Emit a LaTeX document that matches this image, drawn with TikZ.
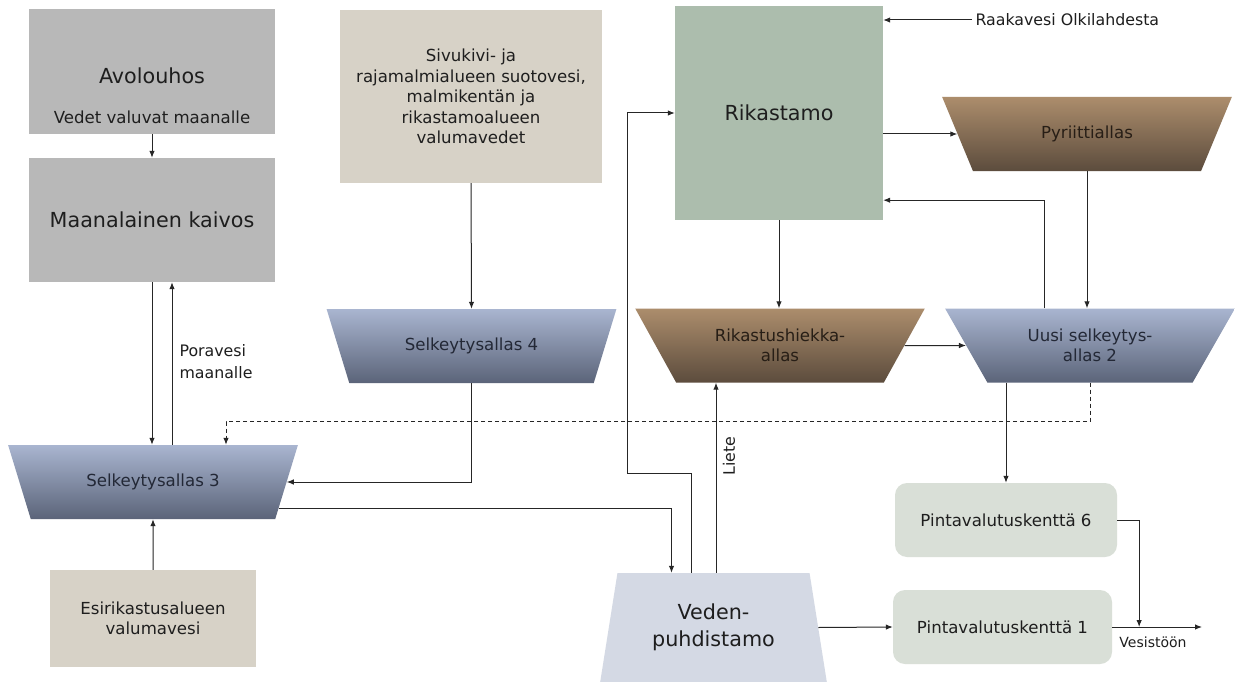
\documentclass[tikz,border=0pt]{standalone}
\usepackage{fontspec}
\setmainfont{DejaVu Sans}
\usetikzlibrary{shapes.geometric,arrows.meta,calc}
\definecolor{greyc}{HTML}{B8B8B8}
\definecolor{beige}{HTML}{D7D2C7}
\definecolor{rikc}{HTML}{ACBDAD}
\definecolor{pintc}{HTML}{D9DFD7}
\definecolor{vpc}{HTML}{D4D9E4}
\definecolor{bluetop}{HTML}{A9B5D0}
\definecolor{bluebot}{HTML}{5B6479}
\definecolor{browntop}{HTML}{AC8D6C}
\definecolor{brownbot}{HTML}{5C4C3D}
\definecolor{txt}{HTML}{1E1E1E}
\definecolor{bluetxt}{HTML}{232836}
\definecolor{browntxt}{HTML}{271E16}
\definecolor{linec}{HTML}{262626}
\newcommand{\fbig}{\fontsize{20.7}{27}\selectfont}
\newcommand{\fmed}{\fontsize{16.6}{20.5}\selectfont}
\newcommand{\fsm}{\fontsize{15.8}{22}\selectfont}
\newcommand{\ftiny}{\fontsize{14}{16}\selectfont}
\begin{document}
\begin{tikzpicture}[x=1pt,y=-1pt,
  box/.style={rectangle, inner sep=0pt, font=\fmed, text=txt, align=center},
  pool/.style={trapezium, shape border rotate=180, trapezium angle=52.4,
    trapezium stretches=true, minimum width=290pt, minimum height=74pt,
    inner sep=0pt, align=center, font=\fmed},
  bluepool/.style={pool, top color=bluetop, bottom color=bluebot, text=bluetxt},
  brownpool/.style={pool, top color=browntop, bottom color=brownbot, text=browntxt},
  pint/.style={box, fill=pintc, rounded corners=12pt, minimum height=74pt},
  lbl/.style={text=txt},
  arr/.style={draw=linec, line width=1pt, -{Latex[length=7pt,width=5.5pt]}},
  dash line/.style={dash pattern=on 4pt off 3pt}
]
\useasboundingbox (0,0) rectangle (1236,682);
\fill[white] (0,0) rectangle (1236,682);

% boxes
\node[box, fill=greyc, minimum width=246pt, minimum height=125pt] (av) at (152,71.5) {};
\node[lbl, font=\fbig] (avt) at (152,76) {Avolouhos};
\node[lbl, font=\fmed] (avs) at (152,117) {Vedet valuvat maanalle};
\node[box, fill=greyc, minimum width=246pt, minimum height=124pt, font=\fbig] (mk) at (152,220) {Maanalainen kaivos};
\node[box, fill=beige, minimum width=262pt, minimum height=173pt] (sv) at (471,96.5)
  {Sivukivi- ja\\rajamalmialueen suotovesi,\\malmikentän ja\\rikastamoalueen\\valumavedet};
\node[box, fill=rikc, minimum width=208pt, minimum height=214pt, font=\fbig] (rk) at (779,113) {Rikastamo};
\node[lbl, anchor=west, font=\fsm] (raw) at (972,20) {Raakavesi Olkilahdesta};

% pools
\node[brownpool] (py) at (1087,134) {Pyriittiallas};
\node[brownpool] (rh) at (780,345.5) {Rikastushiekka-\\allas};
\node[bluepool] (uu) at (1090,345.5) {Uusi selkeytys-\\allas 2};
\node[bluepool] (s4) at (471.5,346) {Selkeytysallas 4};
\node[bluepool] (s3) at (153,482) {Selkeytysallas 3};

\node[box, fill=beige, minimum width=206pt, minimum height=97pt] (es) at (153,618.5) {Esirikastusalueen\\valumavesi};
\node[trapezium, trapezium angle=76.8, trapezium stretches=true, minimum width=227pt,
  minimum height=109pt, fill=vpc, font=\fbig, text=txt, align=center, inner sep=0pt] (vp) at (713.5,627.5) {Veden-\\puhdistamo};
\node[pint, minimum width=222pt] (p6) at (1006,520) {Pintavalutuskenttä 6};
\node[pint, minimum width=219pt] (p1) at (1002.5,627) {Pintavalutuskenttä 1};
\coordinate (ves) at (1202,627);
\node[lbl, font=\ftiny] (vest) at (1153,642) {Vesistöön};
\node[lbl, anchor=west, font=\fsm, align=left] (pv) at (176,362) {Poravesi\\maanalle};
\node[lbl, rotate=90, font=\fsm] (lt) at (729,456) {Liete};

% connectors
\draw[arr] (av.south) -- (mk.north);
\draw[arr] (mk.south) -- (mk.south |- s3.north);
\coordinate (upA) at ($(s3.north)+(19,0)$);
\draw[arr] (upA) -- (upA |- mk.south);
\draw[arr] (sv.south) -- (s4.north);
\draw[arr] (s4.south) |- (s3.east);
\draw[arr] (es.north) -- (s3.south);
\draw[arr] (s3.-12.7) -| ($(vp.north)+(-42,0)$);
\draw[arr] ($(vp.north)+(-22.5,0)$) |- ++(-64,-99) |- (rk.west);
\coordinate (lt1) at ($(vp.north)+(2.5,0)$);
\draw[arr] (lt1) -- (lt1 |- rh.south);
\draw[arr] (rk.south) -- (rk.south |- rh.north);
\draw[arr] (raw.west) -- (rk.east |- raw.west);
\draw[arr] (rk.east |- py.west) -- (py.west);
\draw[arr] (py.south) -- (py.south |- uu.north);
\coordinate (uuA) at ($(uu.north)+(-46,0)$);
\draw[arr] (uuA) |- ($(rk.south east)+(0,-20)$);
\draw[arr] (rh.east) -- (uu.west);
\draw[arr] (uu.south -| p6.north) -- (p6.north);
\draw[arr, dash line] (uu.south) -- ++(0,39) -| ($(s3.north)+(73,0)$);
\draw[arr] (vp.east) -- (p1.west);
\draw[arr] (p1.east) -- (ves);
\draw[arr] (p6.east) -| ($(p1.east)!0.3!(ves)$);
\end{tikzpicture}
\end{document}
